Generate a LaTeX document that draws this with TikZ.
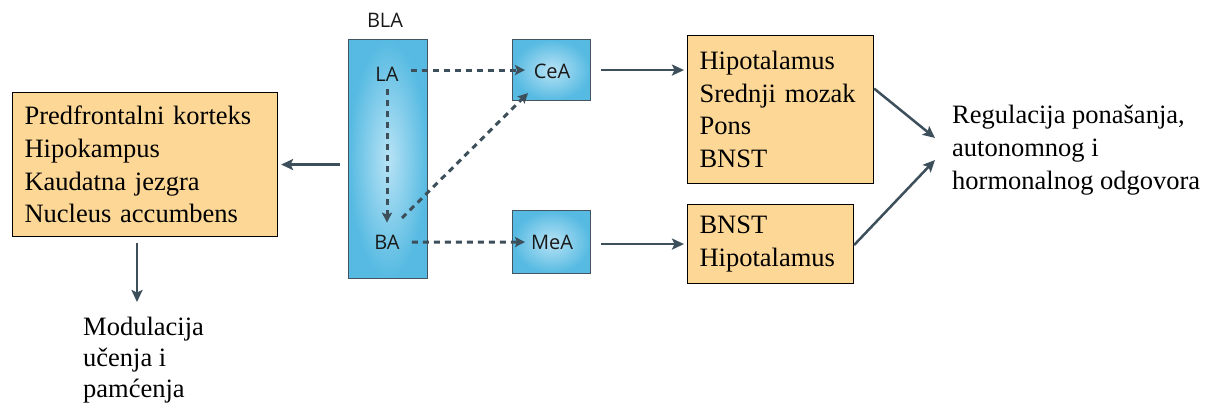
\documentclass[tikz,border=0pt]{standalone}
\usepackage{fontspec}
\setmainfont{Liberation Serif}
\newfontfamily\blafont{Open Sans}
\usetikzlibrary{arrows.meta,calc}
\definecolor{arrowc}{HTML}{3D4F5A}
\definecolor{boxorange}{HTML}{FDD796}
\definecolor{blueout}{HTML}{56BAE2}
\definecolor{bluein}{HTML}{B8E3F5}
\definecolor{blueedge}{HTML}{44555F}
\tikzset{
  serif/.style={font=\fontsize{26.5}{32.7}\selectfont},
  sanslbl/.style={font=\blafont\fontsize{20}{22}\selectfont, text=black!90, inner sep=0pt},
  orangebox/.style={draw=black, line width=1.1pt, fill=boxorange, serif, align=left,
    inner xsep=12pt, inner ysep=0pt, anchor=north west},
  bluebox/.style={draw=blueedge, line width=1.1pt, inner color=bluein, outer color=blueout,
    anchor=north west, inner sep=0pt},
  solidarrow/.style={draw=arrowc, line width=2.5pt, -{Stealth[length=12pt,width=11pt,inset=2.5pt]}},
  dasharrow/.style={draw=arrowc, line width=3pt, dash pattern=on 6pt off 5pt,
    -{Stealth[length=10pt,width=10pt,inset=2pt]}},
  plaintext/.style={serif, align=left, inner sep=0pt}
}
\begin{document}
\begin{tikzpicture}[x=1pt,y=-1pt]
\useasboundingbox (0,0) rectangle (1211,407);
% blue boxes
\node[bluebox, minimum width=79pt, minimum height=239pt] (bla) at (348,39) {};
\node[sanslbl] (blalbl) at (385,20) {BLA};
\node[bluebox, minimum width=78pt, minimum height=61pt] (ceabox) at (512,39) {};
\node[bluebox, minimum width=78pt, minimum height=63pt] (meabox) at (512,210) {};
\node[sanslbl] (la) at (387,74) {LA};
\node[sanslbl] (ba) at (387,242) {BA};
\node[sanslbl] (cea) at (552,71) {CeA};
\node[sanslbl] (mea) at (552,242) {MeA};
% orange boxes
\node[orangebox, minimum width=265pt, minimum height=144pt, text width=241pt] (left) at (12,92)
  {Predfrontalni korteks\\Hipokampus\\Kaudatna jezgra\\Nucleus accumbens};
\node[orangebox, minimum width=186pt, minimum height=148pt, text width=162pt] (top) at (687,35)
  {Hipotalamus\\Srednji mozak\\Pons\\BNST};
\node[orangebox, minimum width=166pt, minimum height=79pt, text width=142pt] (bot) at (687,204)
  {BNST\\Hipotalamus};
% plain texts
\node[plaintext, anchor=west] (reg) at (952,150)
  {Regulacija ponašanja,\\autonomnog i\\hormonalnog odgovora};
\node[plaintext, anchor=north west, font=\fontsize{26.5}{31}\selectfont] (mod) at (83,317)
  {Modulacija\\učenja i\\pamćenja};
\coordinate (modtop) at (137,302);
% dashed arrows
\draw[dasharrow] ([xshift=12pt]la.east |- ceabox.west) -- ([xshift=13pt]ceabox.west);
\draw[dasharrow] ([yshift=-8pt]la.south) -- ([yshift=12pt]ba.north);
\draw[dasharrow] ([xshift=15pt,yshift=24pt]ba.center) -- ([xshift=16pt,yshift=8pt]ceabox.south west);
\draw[dasharrow] ([xshift=12pt]ba.east) -- ([xshift=13pt]meabox.west);
% solid arrows
\draw[solidarrow] ([xshift=-8pt]bla.west |- left.east) -- ([xshift=3pt]left.east);
\draw[solidarrow] ([yshift=-6pt]left.south -| modtop) -- (modtop);
\draw[solidarrow] ([xshift=10pt]ceabox.east) -- ([xshift=-3pt]ceabox.east -| top.west);
\draw[solidarrow] ([xshift=10pt,yshift=-2pt]meabox.east) -- ([xshift=-3pt,yshift=-2pt]meabox.east -| bot.west);
\draw[solidarrow] ([yshift=21pt]top.east) -- ([xshift=-17pt,yshift=12pt]reg.west);
\draw[solidarrow] ([yshift=-1pt]bot.east) -- ([xshift=-17pt,yshift=-10pt]reg.west);
\end{tikzpicture}
\end{document}
